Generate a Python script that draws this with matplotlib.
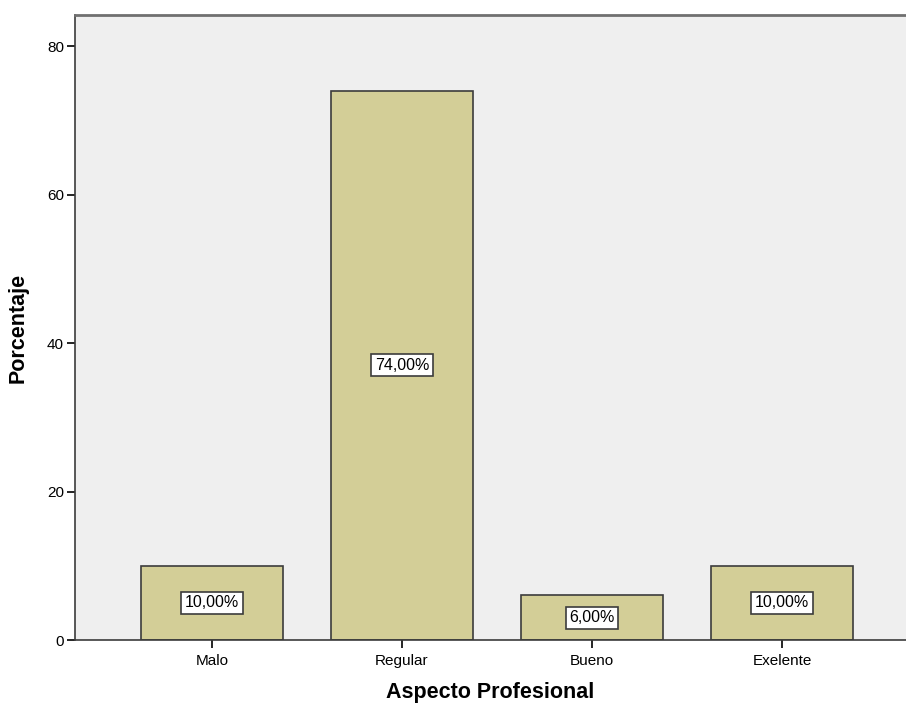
import matplotlib
matplotlib.use("Agg")
import matplotlib.pyplot as plt

categories = ["Malo", "Regular", "Bueno", "Exelente"]
percentages = [10.0, 74.0, 6.0, 10.0]

plt.rcParams['font.family'] = ['Liberation Sans', 'DejaVu Sans']

fig = plt.figure(figsize=(9.06, 7.08), dpi=100)
ax = fig.add_axes([75 / 906, 68 / 708, 1 - 75 / 906, (640 - 15) / 708])
ax.set_facecolor("#EFEFEF")

xs = range(len(categories))
ax.bar(xs, percentages, width=0.747, color="#D3CE97", edgecolor="#3C3C3C", linewidth=1.2, zorder=2)

for x, v in zip(xs, percentages):
    ax.text(x, v / 2, f"{v:.2f}%".replace(".", ","), ha="center", va="center", fontsize=11.5,
            bbox=dict(boxstyle="square,pad=0.22", facecolor="white", edgecolor="#3C3C3C", linewidth=1.2),
            zorder=3)

ax.set_xlim(-0.721, 3.653)
ax.set_ylim(0, 84.2)
ax.set_xticks(list(xs))
ax.set_xticklabels(categories, fontsize=11)
ax.set_yticks([0, 20, 40, 60, 80])
ax.tick_params(axis="y", labelsize=11, length=6, width=1.2, pad=2)
ax.tick_params(axis="x", length=6, width=1.2, pad=4)

ax.spines["right"].set_visible(False)
for s in ["left", "bottom", "top"]:
    ax.spines[s].set_color("#3C3C3C")
    ax.spines[s].set_linewidth(1.2)
ax.spines["top"].set_color("#707070")
ax.spines["top"].set_linewidth(2)

ax.set_xlabel("Aspecto Profesional", fontsize=15.5, fontweight="bold", labelpad=10)
ax.set_ylabel("Porcentaje", fontsize=15.5, fontweight="bold", labelpad=13)

fig.savefig("out.png", dpi=100)
